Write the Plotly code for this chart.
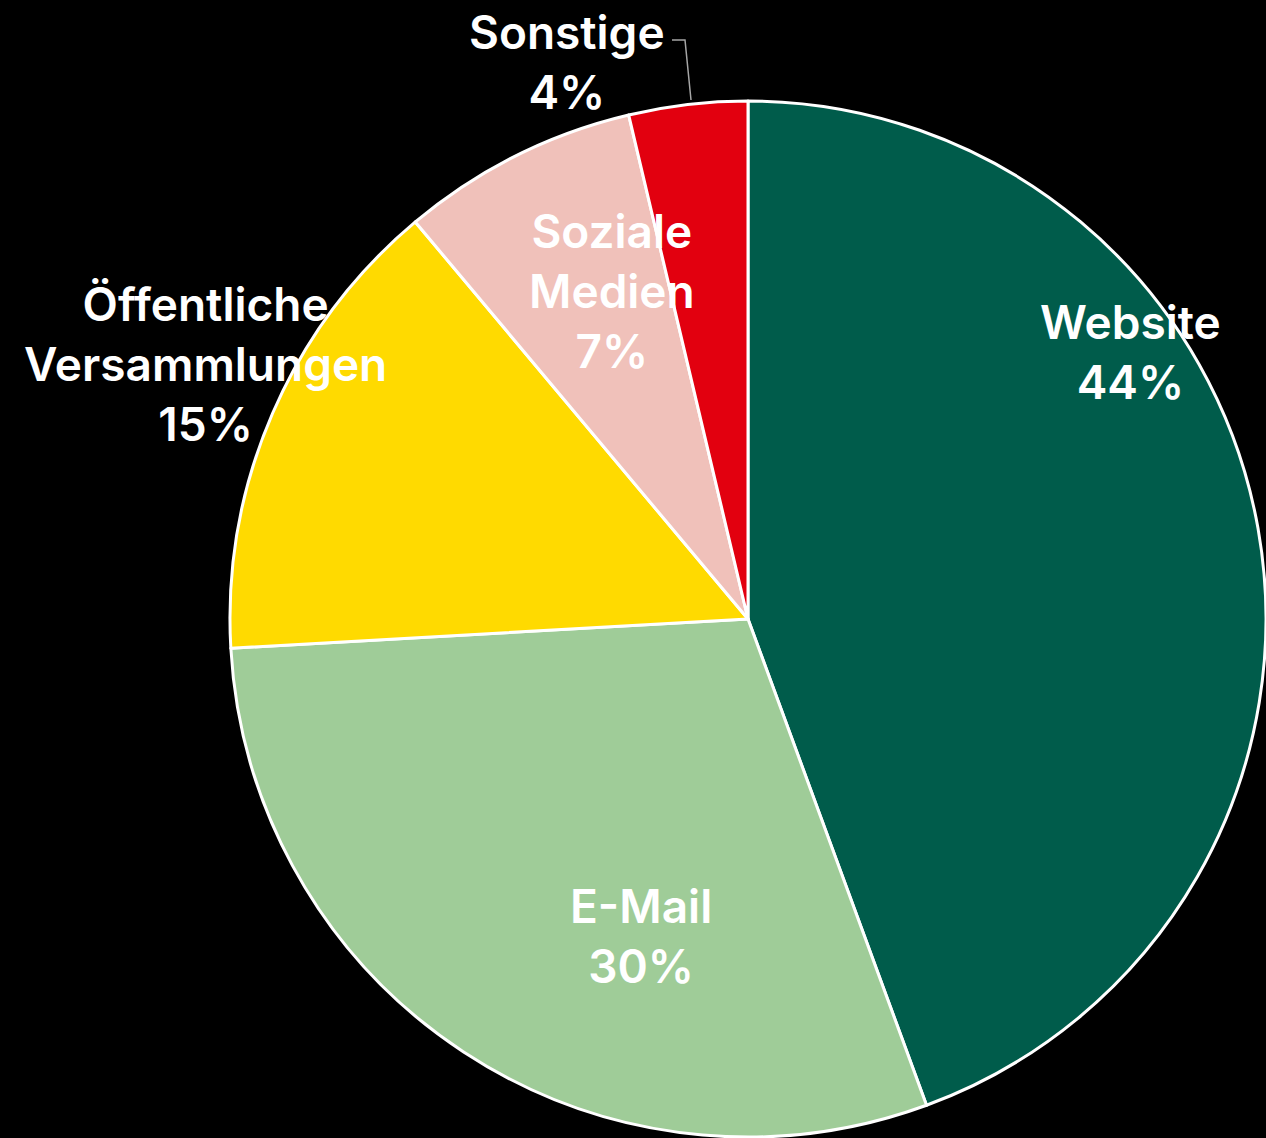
import plotly.graph_objects as go

categories = ["Website", "E-Mail", "Öffentliche Versammlungen", "Soziale Medien", "Sonstige"]
values = [44.4, 29.7, 14.8, 7.4, 3.7]
label_lines = ["Website", "E-Mail", "Öffentliche<br>Versammlungen", "Soziale<br>Medien", "Sonstige"]
colors = ["#005C4B", "#9FCC98", "#FFDA00", "#F0C1BA", "#E2000F"]

W, H = 1266, 1138
# label block centres (pixels) - layout only
label_pos = [(1130, 352), (641, 936), (205, 364), (612, 291), (567, 62)]

fig = go.Figure(go.Pie(
    labels=categories,
    values=values,
    sort=False,
    direction="clockwise",
    rotation=0,
    marker=dict(colors=colors, line=dict(color="white", width=3)),
    textinfo="none",
    hoverinfo="label+percent",
    domain=dict(x=[230 / W, 1.0], y=[0.0, 1 - 100 / H]),
    showlegend=False,
))

total = sum(values)
for txt, v, (px, py) in zip(label_lines, values, label_pos):
    pct = round(100 * v / total)
    fig.add_annotation(
        x=px / W, y=1 - py / H, xref="paper", yref="paper",
        text=f"{txt}<br>{pct}%", showarrow=False,
        xanchor="center", yanchor="middle", align="center",
        font=dict(family="Inter", size=46, color="white", weight=600),
    )

# leader line for Sonstige
fig.add_shape(
    type="path", xref="paper", yref="paper",
    path=f"M {672/W} {1-40/H} L {685/W} {1-40/H} L {691/W} {1-100/H}",
    line=dict(color="#A6A6A6", width=1.5),
)

fig.update_layout(
    width=W, height=H,
    margin=dict(l=0, r=0, t=0, b=0),
    paper_bgcolor="black", plot_bgcolor="black",
    font=dict(family="Inter", color="white"),
)

fig.write_html(
    "out.html",
    config={"displayModeBar": False},
    post_script="document.body.style.margin='0';document.body.style.background='black';",
)
